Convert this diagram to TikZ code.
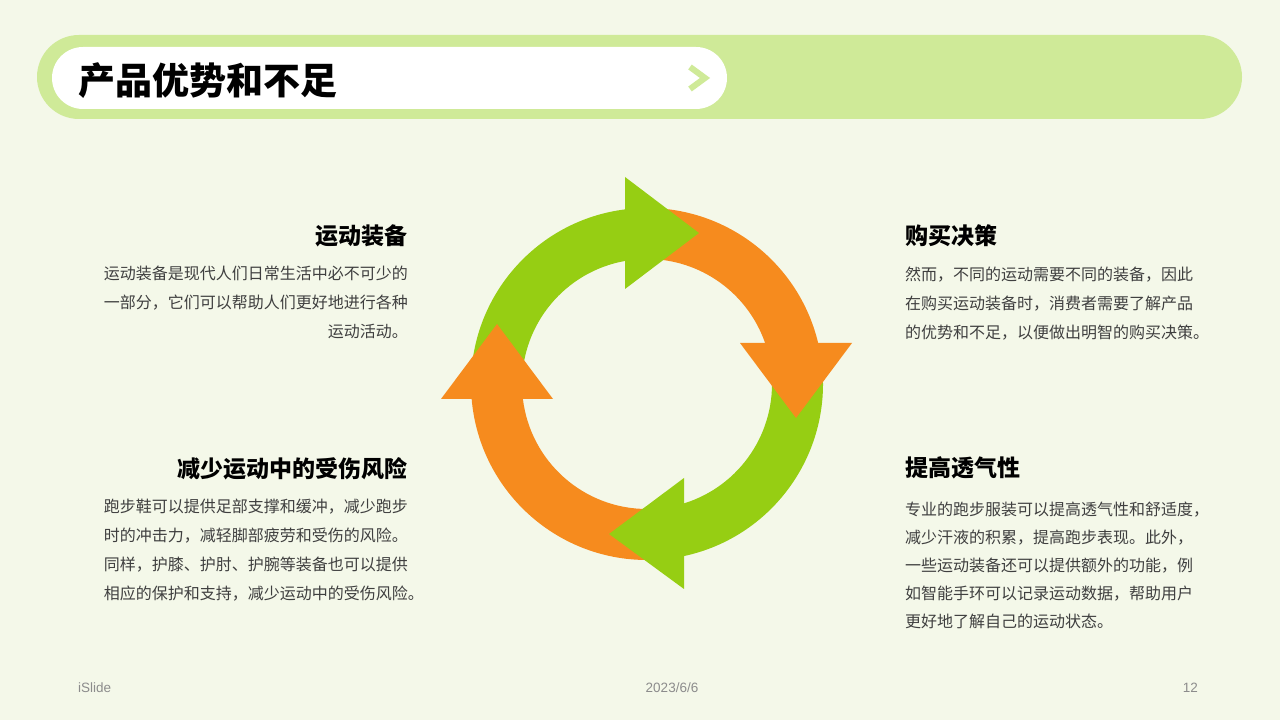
\documentclass[tikz,border=0pt]{standalone}
\usepackage{fontspec}
\setmainfont{Noto Sans CJK SC}
\newfontfamily\latinfont{Liberation Sans}
\usepackage{tikz}
\usetikzlibrary{positioning}
\definecolor{bgc}{HTML}{F4F8E9}
\definecolor{pillc}{HTML}{CFEA98}
\definecolor{grnc}{HTML}{96CE13}
\definecolor{orgc}{HTML}{F68B1E}
\definecolor{txtc}{HTML}{3F3F3F}
\definecolor{ftc}{HTML}{8C8C8C}

\begin{document}
\begin{tikzpicture}[x=1pt, y=1pt,
    hd/.style={font=\fontsize{23}{28}\selectfont\bfseries, text=black, inner sep=0pt},
    bdy/.style={font=\fontsize{16}{29}\selectfont, text=txtc, inner sep=0pt},
    ftr/.style={font=\latinfont\fontsize{13.5}{15}\selectfont, text=ftc, inner sep=0pt},
    grn/.style={fill=grnc},
    org/.style={fill=orgc}
]
\useasboundingbox (0,0) rectangle (1280,720);
\fill[bgc] (0,0) rectangle (1280,720);

% header bar
\fill[pillc, rounded corners=42pt] (37,601) rectangle (1242,685);
\fill[white, rounded corners=31pt] (52,611) rectangle (727,673);
\node[anchor=west, inner sep=0pt, font=\fontsize{37}{40}\selectfont\bfseries] (title) at (78,639) {产品优势和不足};
\draw[pillc, line width=6pt, miter limit=4] (690,653) -- (705,642) -- (690,631);

% cycle of arrows
\begin{scope}[shift={(647,336)}]
\fill[grn] (180:176) arc[start angle=180, end angle=97.18, radius=176] -- (100.14:125) arc[start angle=100.14, end angle=180, radius=125] -- cycle;
\fill[org] (90:176) arc[start angle=90, end angle=13.47, radius=176] -- (19.15:125) arc[start angle=19.15, end angle=90, radius=125] -- cycle;
\fill[grn] (5:176) arc[start angle=5, end angle=-77.87, radius=176] -- (-72.78:125) arc[start angle=-72.78, end angle=5, radius=125] -- cycle;
\fill[org] (270:176) arc[start angle=270, end angle=184.89, radius=176] -- (186.89:125) arc[start angle=186.89, end angle=270, radius=125] -- cycle;
% heads
\fill[grn] (-22,207) -- (52,151) -- (-22,95) -- cycle;
\fill[org] (93,41) -- (205,41) -- (149,-34) -- cycle;
\fill[grn] (37,-94) -- (37,-205) -- (-38,-150) -- cycle;
\fill[org] (-206,-15) -- (-94,-15) -- (-150,60) -- cycle;
\end{scope}

% left texts
\node[hd, anchor=east] (h1) at (408,484) {运动装备};
\node[bdy, anchor=north east, align=right] (b1) at (408,454)
    {运动装备是现代人们日常生活中必不可少的\\一部分，它们可以帮助人们更好地进行各种\\运动活动。};
\node[hd, anchor=east] (h3) at (408,251) {减少运动中的受伤风险};
\node[bdy, anchor=north east, align=right] (b3) at (408,221)
    {跑步鞋可以提供足部支撑和缓冲，减少跑步\\时的冲击力，减轻脚部疲劳和受伤的风险。\\同样，护膝、护肘、护腕等装备也可以提供\\相应的保护和支持，减少运动中的受伤风险\rlap{。}};

% right texts
\node[hd, anchor=west] (h2) at (905,484) {购买决策};
\node[bdy, anchor=north west, align=left] (b2) at (905,453)
    {然而，不同的运动需要不同的装备，因此\\在购买运动装备时，消费者需要了解产品\\的优势和不足，以便做出明智的购买决策。};
\node[hd, anchor=west] (h4) at (905,252) {提高透气性};
\node[bdy, anchor=north west, align=left, font=\fontsize{16}{28}\selectfont] (b4) at (905,218)
    {专业的跑步服装可以提高透气性和舒适度，\\减少汗液的积累，提高跑步表现。此外，\\一些运动装备还可以提供额外的功能，例\\如智能手环可以记录运动数据，帮助用户\\更好地了解自己的运动状态。};

% footer
\node[ftr, anchor=west] (f1) at (78,32) {iSlide};
\node[ftr] (f2) at (672,32) {2023/6/6};
\node[ftr, anchor=east] (f3) at (1198,32) {12};
\end{tikzpicture}
\end{document}
